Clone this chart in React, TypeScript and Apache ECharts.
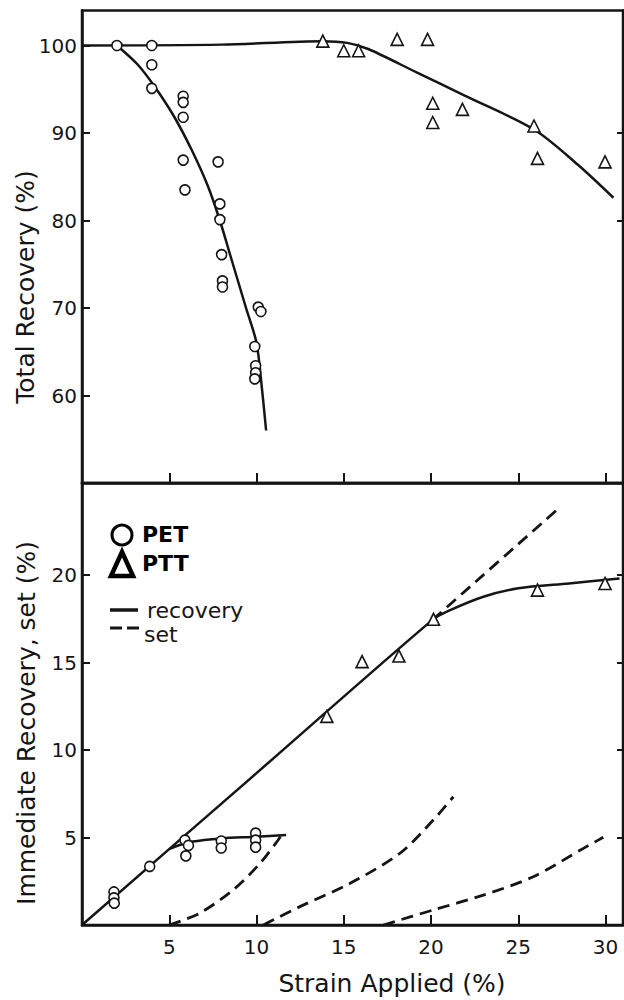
import React, { useEffect, useRef } from "react";
import * as echarts from "echarts";

// ---- tick values ----
const xTicks = [5, 10, 15, 20, 25, 30];
const totalTicks = [60, 70, 80, 90, 100];
const totalRightTicks = [80, 90];
const immTicks = [5, 10, 15, 20];

// ---- top panel: total recovery ----
const petTotalPts = [
  [2, 100], [4, 100], [4, 97.8], [4, 95.1],
  [5.8, 94.2], [5.8, 93.5], [5.8, 91.8], [5.8, 86.9], [5.9, 83.5],
  [7.8, 86.7], [7.9, 81.9], [7.9, 80.1], [8, 76.1], [8.05, 73.1], [8.05, 72.4],
  [10.1, 70.1], [10.25, 69.6], [9.9, 65.6], [9.95, 63.4], [9.95, 62.6], [9.9, 61.9],
];
const pttTotalPts = [
  [13.8, 100.5], [15.0, 99.4], [15.85, 99.4], [18.06, 100.7], [19.8, 100.7],
  [20.1, 93.4], [20.1, 91.2], [21.8, 92.7], [25.9, 90.8], [26.1, 87.1], [29.97, 86.7],
];
const petTotalCurve = [
  [2, 100], [3.2, 97.8], [4.2, 95.2], [5.3, 91.8], [6.3, 88], [7.2, 84],
  [7.9, 80], [8.5, 76], [9.4, 70], [10, 66], [10.3, 61], [10.55, 56],
];
const pttTotalCurve = [
  [0, 100], [8, 100.1], [13.8, 100.5], [15.2, 100.3], [16.4, 99.6], [19.2, 96.9],
  [21.9, 94.3], [25.9, 90.4], [28.4, 86.4], [30.45, 82.6],
];

// ---- bottom panel: immediate recovery and set ----
const petImmPts = [
  [1.83, 1.89], [1.83, 1.55], [1.85, 1.25], [3.88, 3.35],
  [5.9, 4.85], [6.1, 4.55], [5.95, 3.95],
  [7.98, 4.8], [7.98, 4.4], [9.95, 5.25], [9.95, 4.85], [9.95, 4.45],
];
const pttImmPts = [
  [14.03, 11.92], [16.05, 15.05], [18.16, 15.37], [20.14, 17.47], [26.1, 19.14], [29.97, 19.52],
];
const pttRecoveryCurve = [
  [0, 0], [10, 8.68], [20.1, 17.45], [21, 17.95], [23, 18.76], [25, 19.24], [27.9, 19.52], [30.8, 19.8],
];
const petRecoveryCurve = [
  [5, 4.34], [6, 4.7], [7, 4.86], [8, 4.95], [10, 5.05], [11.7, 5.15],
];
const setContinuation = [[20.1, 17.45], [27.3, 23.8]];
const petSetCurve = [[5, 0], [6.73, 0.67], [8.65, 2.0], [10.18, 3.5], [11.24, 4.86], [11.6, 5.4]];
const midSetCurve = [[10.39, 0], [12.49, 1.05], [15.36, 2.38], [18.22, 4.1], [20.13, 6.0], [21.28, 7.33]];
const pttSetCurve = [[17.27, 0], [20.13, 0.86], [23.0, 1.71], [25.86, 2.76], [28.73, 4.38], [29.87, 5.01]];

const INK = "#151515";
const FONT = "DejaVu Sans";

export default function App() {
  const ref = useRef<HTMLDivElement>(null);

  useEffect(() => {
    if (!ref.current) return;
    const chart = echarts.init(ref.current, null, { renderer: "svg" });

    const xAxisBase = (gridIndex: number, showLabel: boolean) => ({
      type: "value",
      gridIndex,
      min: 0,
      max: 31,
      axisLine: { show: true, lineStyle: { color: INK, width: 2.5 } },
      axisTick: { show: true, inside: true, length: 10, customValues: xTicks, lineStyle: { color: INK, width: 2 } },
      axisLabel: {
        show: showLabel, customValues: xTicks, color: INK, fontSize: 20, fontFamily: FONT, margin: 12,
      },
      splitLine: { show: false },
    });

    const yAxisBase = (gridIndex: number, min: number, max: number, ticks: number[], position: string, showLabel: boolean) => ({
      type: "value",
      gridIndex,
      min,
      max,
      position,
      axisLine: { show: true, lineStyle: { color: INK, width: 2.5 } },
      axisTick: { show: true, inside: true, length: position === "left" ? 8 : 6, customValues: ticks, lineStyle: { color: INK, width: 2 } },
      axisLabel: { show: showLabel, customValues: ticks, color: INK, fontSize: 20, fontFamily: FONT, margin: 5 },
      splitLine: { show: false },
    });

    const scatter = (data: number[][], symbol: string, xi: number, yi: number) => ({
      type: "scatter",
      data,
      xAxisIndex: xi,
      yAxisIndex: yi,
      symbol,
      symbolSize: symbol === "circle" ? 10 : 12,
      itemStyle: { color: "#fff", borderColor: INK, borderWidth: 1.6, opacity: 1 },
      z: 5,
    });

    const curve = (data: number[][], xi: number, yi: number, dashed: boolean) => ({
      type: "line",
      data,
      xAxisIndex: xi,
      yAxisIndex: yi,
      smooth: 0.3,
      showSymbol: false,
      symbol: "none",
      lineStyle: { color: INK, width: dashed ? 2.8 : 2.5, type: dashed ? [12, 7] : "solid" },
      z: 3,
    });

    chart.setOption({
      animation: false,
      backgroundColor: "#fff",
      grid: [
        { left: 82, top: 10.5, width: 541, height: 472.5, show: true, borderColor: INK, borderWidth: 2.5, backgroundColor: "transparent" },
        { left: 82, top: 483, width: 541, height: 442, show: true, borderColor: INK, borderWidth: 2.5, backgroundColor: "transparent" },
      ],
      xAxis: [xAxisBase(0, false), xAxisBase(1, true)],
      yAxis: [
        yAxisBase(0, 50, 104, totalTicks, "left", true),
        yAxisBase(0, 50, 104, totalRightTicks, "right", false),
        yAxisBase(1, 0, 25.26, immTicks, "left", true),
        yAxisBase(1, 0, 25.26, immTicks, "right", false),
      ],
      series: [
        curve(pttTotalCurve, 0, 0, false),
        curve(petTotalCurve, 0, 0, false),
        scatter(petTotalPts, "circle", 0, 0),
        scatter(pttTotalPts, "triangle", 0, 0),
        curve(pttRecoveryCurve, 1, 2, false),
        curve(petRecoveryCurve, 1, 2, false),
        curve(setContinuation, 1, 2, true),
        curve(petSetCurve, 1, 2, true),
        curve(midSetCurve, 1, 2, true),
        curve(pttSetCurve, 1, 2, true),
        scatter(petImmPts, "circle", 1, 2),
        scatter(pttImmPts, "triangle", 1, 2),
      ],
      graphic: [
        {
          type: "text", x: 25, y: 287, rotation: Math.PI / 2,
          style: { text: "Total Recovery (%)", fill: INK, fontSize: 25, fontFamily: FONT, align: "center", verticalAlign: "middle" },
        },
        {
          type: "text", x: 26, y: 723, rotation: Math.PI / 2,
          style: { text: "Immediate Recovery, set (%)", fill: INK, fontSize: 25, fontFamily: FONT, align: "center", verticalAlign: "middle" },
        },
        {
          type: "text", x: 392, y: 983,
          style: { text: "Strain Applied (%)", fill: INK, fontSize: 25, fontFamily: FONT, align: "center", verticalAlign: "middle" },
        },
        // legend
        { type: "circle", shape: { cx: 122, cy: 535, r: 10 }, style: { fill: "#fff", stroke: "#000", lineWidth: 3 } },
        {
          type: "text", x: 142, y: 534,
          style: { text: "PET", fill: "#000", fontSize: 22, fontWeight: "bold", fontFamily: FONT, verticalAlign: "middle" },
        },
        {
          type: "polygon", shape: { points: [[122, 552], [111, 576], [133, 576]] },
          style: { fill: "#fff", stroke: "#000", lineWidth: 4.5, lineJoin: "miter" },
        },
        {
          type: "text", x: 142, y: 563,
          style: { text: "PTT", fill: "#000", fontSize: 22, fontWeight: "bold", fontFamily: FONT, verticalAlign: "middle" },
        },
        { type: "line", shape: { x1: 110, y1: 610, x2: 138, y2: 610 }, style: { stroke: INK, lineWidth: 3.5 } },
        {
          type: "text", x: 147, y: 610,
          style: { text: "recovery", fill: INK, fontSize: 22, fontFamily: FONT, verticalAlign: "middle" },
        },
        { type: "line", shape: { x1: 110, y1: 628, x2: 140, y2: 628 }, style: { stroke: INK, lineWidth: 3, lineDash: [12, 5] } },
        {
          type: "text", x: 144, y: 634,
          style: { text: "set", fill: INK, fontSize: 22, fontFamily: FONT, verticalAlign: "middle" },
        },
      ],
    });

    return () => chart.dispose();
  }, []);

  return (
    <div
      ref={ref}
      style={{ position: "absolute", left: 0, top: 0, width: 624, height: 1000, background: "#fff" }}
    />
  );
}
